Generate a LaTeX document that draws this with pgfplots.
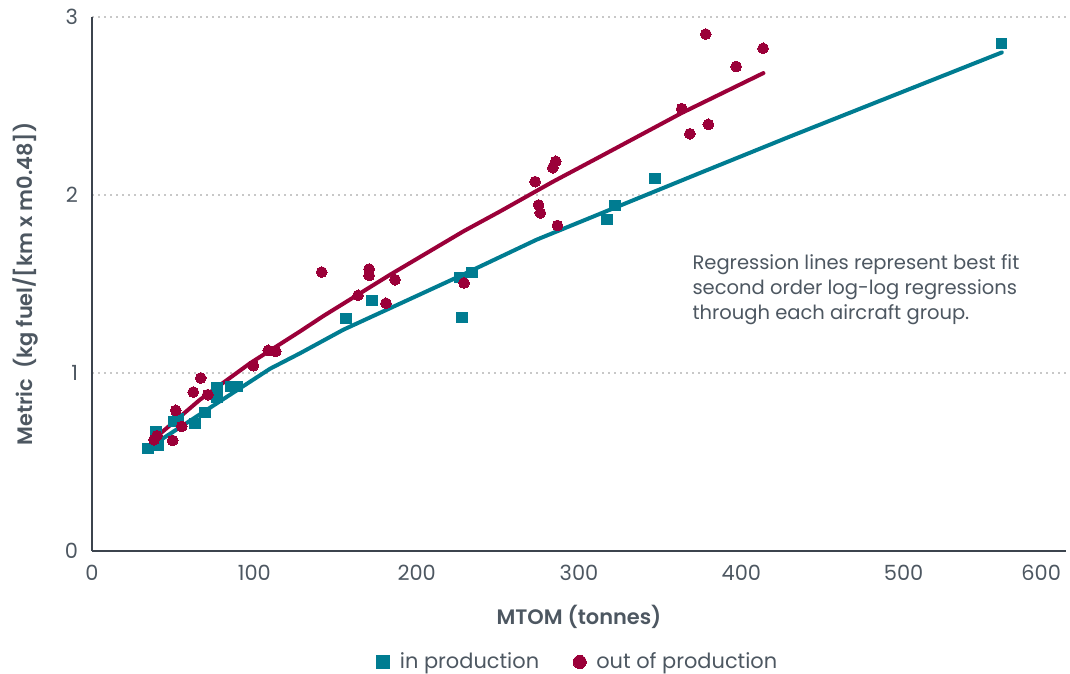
\documentclass[border=0pt]{standalone}
\usepackage{fontspec}
\setmainfont{Poppins}[BoldFont={Poppins SemiBold}]
\usepackage{pgfplots}
\pgfplotsset{compat=1.18}
\definecolor{iccteal}{RGB}{0,124,145}
\definecolor{iccred}{RGB}{155,0,57}
\definecolor{txt}{RGB}{77,87,97}
\definecolor{axl}{RGB}{60,68,78}
\definecolor{gridc}{RGB}{200,200,200}

\pgfplotstableread{
x y
34.5 0.575
39.4 0.670
40.7 0.592
50.5 0.726
53.0 0.743
63.5 0.715
69.6 0.777
77.0 0.918
77.0 0.861
85.6 0.923
89.3 0.923
156.5 1.305
172.5 1.406
228.0 1.311
226.7 1.535
234.1 1.564
317.3 1.861
322.2 1.940
346.9 2.092
560.1 2.850
}\inprod

\pgfplotstableread{
x y
38.2 0.625
40.0 0.648
49.7 0.621
51.6 0.790
55.3 0.700
62.4 0.893
67.0 0.972
71.3 0.878
99.4 1.041
108.6 1.127
113.2 1.121
141.5 1.567
163.9 1.436
170.7 1.584
170.7 1.548
181.1 1.392
186.7 1.524
229.2 1.506
273.0 2.075
275.1 1.944
276.2 1.899
283.9 2.153
285.7 2.189
286.7 1.829
363.3 2.485
368.3 2.344
378.1 2.904
379.7 2.397
396.8 2.722
413.4 2.824
}\outprod

\pgfplotstableread{
x y
33.9 0.574
66.5 0.768
109.7 1.024
128.2 1.111
154.8 1.243
226.7 1.545
273.9 1.749
374.6 2.124
430.1 2.329
560.5 2.801
}\fitin

\pgfplotstableread{
x y
37.0 0.620
66.5 0.850
97.4 1.055
128.2 1.234
142.5 1.320
183.6 1.552
228.8 1.796
251.4 1.908
284.0 2.075
312.9 2.215
363.3 2.461
413.6 2.685
}\fitout

\begin{document}
\begin{tikzpicture}[font=\fontsize{10.5}{12.6}\selectfont]
\begin{axis}[
  name=ax,
  scale only axis,
  width=487bp, height=267bp,
  xmin=0, xmax=600, ymin=0, ymax=3,
  axis x line=bottom, axis y line=left,
  axis line style={-, draw=axl, line width=0.8bp},
  xtick={0,100,200,300,400,500},
  extra x ticks={600},
  extra x tick style={grid=none, xticklabel style={anchor=north east, xshift=1bp}},
  ytick={0,1,2,3},
  major tick length=0pt,
  ymajorgrids,
  grid style={draw=gridc, line width=1bp, dash pattern=on 1bp off 2bp},
  /pgf/number format/assume math mode=true,
  tick label style={text=txt, font=\fontsize{10.5}{12.6}\selectfont},
  xticklabel style={yshift=-3.5bp},
  yticklabel style={xshift=-3.5bp},
  every axis x label/.style={at={([yshift=-33bp]axis description cs:0.5,0)}, anchor=center, text=txt, font=\fontsize{10.5}{12.6}\selectfont\bfseries},
  every axis y label/.style={at={([xshift=-33.5bp]axis description cs:0,0.5)}, rotate=90, anchor=center, text=txt, font=\fontsize{10.5}{12.6}\selectfont\bfseries},
  xlabel={MTOM (tonnes)},
  ylabel={Metric\ \ (kg fuel/[km x m0.48])},
  legend style={at={([yshift=-55.5bp]axis description cs:0.5,0)}, anchor=center, draw=none, fill=none,
    font=\fontsize{10.5}{12.6}\selectfont, text=txt, legend columns=2,
    /tikz/every odd column/.append style={column sep=3bp},
    /tikz/every even column/.append style={column sep=15bp}},
  legend image post style={mark size=3.3bp},
  legend cell align=left,
  clip=false,
]
\addplot[forget plot, draw=iccteal, line width=2bp, line cap=round, line join=round] table[x=x,y=y] {\fitin};
\addplot[forget plot, draw=iccred, line width=2bp, line cap=round, line join=round] table[x=x,y=y] {\fitout};
\addplot[only marks, color=iccteal, mark=square*, mark size=2.6bp, mark options={fill=iccteal, draw=iccteal, line width=0pt}] table[x=x,y=y] {\inprod};
\addlegendentry{in production}
\addplot[only marks, color=iccred, mark=*, mark size=2.7bp, mark options={fill=iccred, draw=iccred, line width=0pt}] table[x=x,y=y] {\outprod};
\addlegendentry{out of production}
\node[anchor=north west, inner sep=0pt, align=left, text=txt, font=\fontsize{9.8}{12.75}\selectfont] at (axis cs:369.7,1.670)
  {Regression lines represent best fit\\second order log-log regressions\\through each aircraft group.};
\end{axis}
\pgfresetboundingbox
\path ([shift={(-46bp,-61.5bp)}]ax.south west) rectangle ([shift={(489bp,275.5bp)}]ax.south west);
\end{tikzpicture}
\end{document}
